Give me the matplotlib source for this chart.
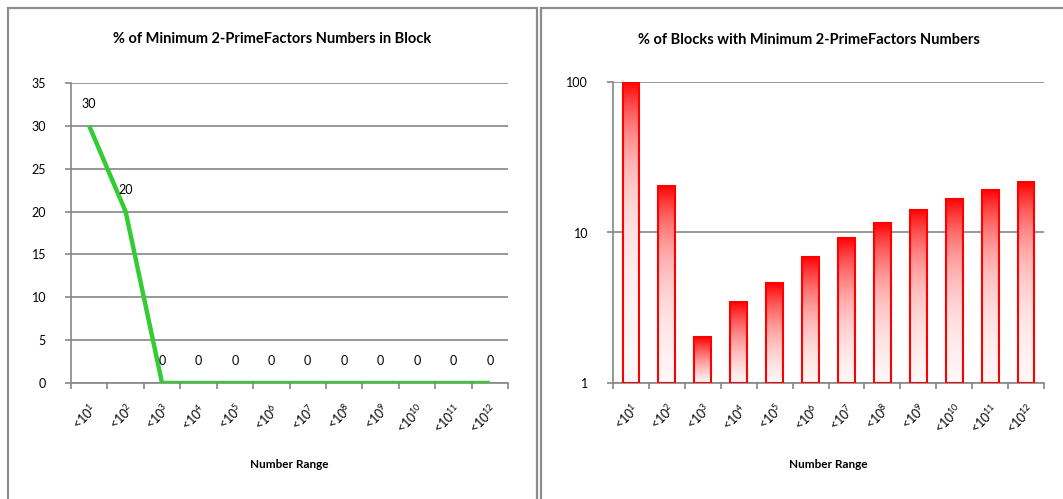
import numpy as np
import matplotlib
matplotlib.use('Agg')
import matplotlib.pyplot as plt
from matplotlib.patches import Rectangle

plt.rcParams['font.family'] = ['Lato', 'DejaVu Sans']
plt.rcParams['mathtext.default'] = 'regular'

# data
exponents = ['1', '2', '3', '4', '5', '6', '7', '8', '9', '10', '11', '12']
labels = ['<10$^{%s}$' % e for e in exponents]
pct_in_block = [30, 20, 0, 0, 0, 0, 0, 0, 0, 0, 0, 0]
pct_blocks = [100, 20.4, 2.01, 3.44, 4.6, 6.84, 9.15, 11.6, 14.2, 16.7, 19.2, 21.5]

W, H = 1063, 499
fig = plt.figure(figsize=(W / 100, H / 100), dpi=100)
grid_c = '#868686'
border_c = '#8c8c8c'

# panel borders
fig.add_artist(Rectangle((8 / W, -0.1), (537 - 8) / W, 1.1 - 8 / H,
                         transform=fig.transFigure, fill=False,
                         edgecolor=border_c, lw=1.6))
fig.add_artist(Rectangle((541 / W, -0.1), (1090 - 541) / W, 1.1 - 8 / H,
                         transform=fig.transFigure, fill=False,
                         edgecolor=border_c, lw=1.6))

ax1 = fig.add_axes([71 / W, 1 - 383 / H, (508 - 71) / W, (383 - 83) / H])
ax2 = fig.add_axes([613 / W, 1 - 383 / H, (1044 - 613) / W, (383 - 82) / H])

x = np.arange(len(labels))


def style(ax):
    for s in ['top', 'right']:
        ax.spines[s].set_visible(False)
    for s in ['left', 'bottom']:
        ax.spines[s].set_color(grid_c)
        ax.spines[s].set_linewidth(1.2)
    ax.grid(axis='y', color=grid_c, lw=1.2)
    ax.set_axisbelow(True)
    ax.set_xlim(-0.5, len(labels) - 0.5)
    ax.set_xticks(np.arange(len(labels) + 1) - 0.5)
    ax.set_xticklabels([])
    ax.set_xticks(x, minor=True)
    ax.set_xticklabels(labels, minor=True, rotation=45, ha='right',
                       rotation_mode='anchor', fontsize=9)
    ax.tick_params(axis='x', which='major', length=4, color=grid_c, width=1.2)
    ax.tick_params(axis='x', which='minor', length=0, pad=13)
    ax.tick_params(axis='y', which='major', length=4, color=grid_c,
                   width=1.2, labelsize=9, pad=14)


# left: line chart
style(ax1)
ax1.plot(x, pct_in_block, color='#33CC33', lw=3.2, solid_capstyle='butt',
         zorder=3)
for xi, v in zip(x, pct_in_block):
    ax1.annotate(str(v), (xi, v), xytext=(0, 22), textcoords='offset pixels',
                 ha='center', va='center', fontsize=9)
ax1.set_ylim(0, 35)
ax1.set_yticks(range(0, 36, 5))

# right: log bar chart with gradient
style(ax2)
ax2.set_yscale('log')
ax2.set_ylim(1, 100)
ax2.set_yticks([1, 10, 100])
ax2.set_yticklabels(['1', '10', '100'])
ax2.yaxis.set_minor_locator(matplotlib.ticker.NullLocator())
ax2.tick_params(axis='y', which='minor', length=0)

grad = np.linspace(0, 1, 256)
cols = np.ones((256, 1, 3))
cols[:, 0, 1] = 0.97 * grad
cols[:, 0, 2] = 0.97 * grad
bw = 0.47
heights = [v - 1 for v in pct_blocks]
bars = ax2.bar(x, heights, width=bw, bottom=1, facecolor='none',
               edgecolor='#ff0000', lw=1.5, zorder=4)
for b, xi, v in zip(bars, x, pct_blocks):
    im = ax2.imshow(cols, extent=[xi - bw / 2, xi + bw / 2, 1, v],
                    aspect='auto', origin='upper', zorder=3,
                    interpolation='bilinear')
    im.set_clip_path(b)
ax2.set_xlim(-0.5, len(labels) - 0.5)
ax2.set_ylim(1, 100)

# titles and axis labels
fig.text(272.5 / W, 1 - 39 / H, '% of Minimum 2-PrimeFactors Numbers in Block',
         ha='center', va='center', fontsize=10.5, fontweight='bold')
fig.text(808.7 / W, 1 - 40 / H, '% of Blocks with Minimum 2-PrimeFactors Numbers',
         ha='center', va='center', fontsize=10.5, fontweight='bold')
fig.text(289.5 / W, 1 - 465 / H, 'Number Range', ha='center', va='center',
         fontsize=8.5, fontweight='bold')
fig.text(828.5 / W, 1 - 465 / H, 'Number Range', ha='center', va='center',
         fontsize=8.5, fontweight='bold')

fig.savefig('out.png', dpi=100)
